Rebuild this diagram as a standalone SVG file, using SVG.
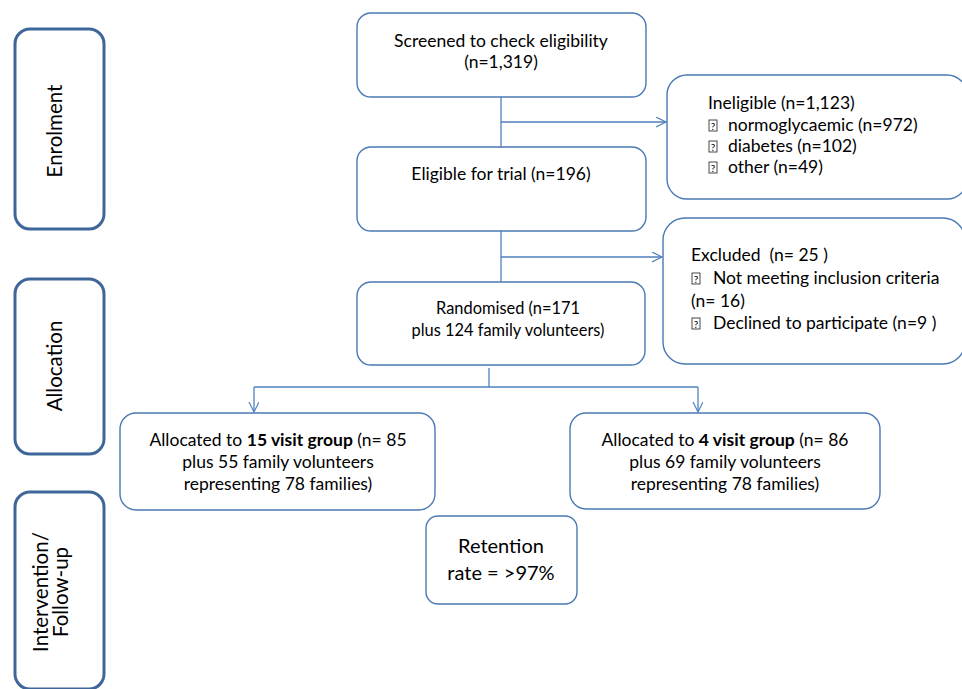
<svg xmlns="http://www.w3.org/2000/svg" width="962" height="689" viewBox="0 0 962 689">
<defs>
<marker id="arr" markerUnits="userSpaceOnUse" markerWidth="12" markerHeight="12" refX="10" refY="5" orient="auto">
<path d="M0,0 L10,5 L0,10" fill="none" stroke="#4f81bd" stroke-width="1.2"/>
</marker>
</defs>
<style>
text{font-family:Lato,"Liberation Sans",sans-serif;fill:#000;}
.b{fill:#fff;stroke:#4a78b4;stroke-width:1.4;}
.side{fill:#fff;stroke:#3f6699;stroke-width:3;}
.t{font-size:17.5px;text-anchor:middle;}
.m{font-size:16.4px;text-anchor:middle;}
.l{font-size:17.5px;}
.s{font-size:20.5px;text-anchor:middle;}
.r{font-size:20px;text-anchor:middle;}
.bx{fill:none;stroke:#333;stroke-width:0.9;}
.q{font-size:10px;text-anchor:middle;}
.c{fill:none;stroke:#4f81bd;stroke-width:1.3;}
</style>
<rect width="962" height="689" fill="#fff"/>
<g id="enrolment"><rect class="side" x="15" y="29" width="89" height="200" rx="15"/><text class="s" transform="translate(62,131) rotate(-90)">Enrolment</text></g>
<g id="allocation"><rect class="side" x="15" y="279" width="89" height="175" rx="15"/><text class="s" transform="translate(62,366) rotate(-90)">Allocation</text></g>
<g id="intervention"><rect class="side" x="15" y="492" width="89" height="197" rx="15"/><text class="s" transform="translate(48,592) rotate(-90)">Intervention/</text><text class="s" transform="translate(68,592) rotate(-90)">Follow-up</text></g>
<g id="connectors">
<path class="c" d="M501,97 V147"/>
<path class="c" d="M501,122 H666" marker-end="url(#arr)"/>
<path class="c" d="M501,231 V282"/>
<path class="c" d="M501,257 H662" marker-end="url(#arr)"/>
<path class="c" d="M489,368 V387"/>
<path class="c" d="M254,387 H698"/>
<path class="c" d="M254,387 V412" marker-end="url(#arr)"/>
<path class="c" d="M698,387 V412" marker-end="url(#arr)"/>
</g>
<g id="screened"><rect class="b" x="357" y="13" width="289" height="84" rx="14"/><text class="t" x="501" y="47">Screened to check eligibility</text><text class="t" x="501" y="68">(n=1,319)</text></g>
<g id="eligible"><rect class="b" x="357" y="147" width="289" height="84" rx="14"/><text class="t" x="501" y="180">Eligible for trial (n=196)</text></g>
<g id="ineligible"><rect class="b" x="667" y="75" width="300" height="124" rx="20"/>
<text class="l" x="708" y="109">Ineligible (n=1,123)</text>
<rect class="bx" x="709" y="120" width="8" height="11"/><text class="q" x="713" y="129.5">?</text><text class="l" x="728" y="131">normoglycaemic (n=972)</text>
<rect class="bx" x="709" y="141" width="8" height="11"/><text class="q" x="713" y="150.5">?</text><text class="l" x="728" y="152">diabetes (n=102)</text>
<rect class="bx" x="709" y="162" width="8" height="11"/><text class="q" x="713" y="171.5">?</text><text class="l" x="728" y="173">other (n=49)</text>
</g>
<g id="excluded"><rect class="b" x="663" y="218" width="302" height="146" rx="22"/>
<text class="l" x="691" y="261" xml:space="preserve">Excluded  (n= 25 )</text>
<rect class="bx" x="692" y="273" width="8" height="11"/><text class="q" x="696" y="282.5">?</text><text class="l" x="713" y="284">Not meeting inclusion criteria</text>
<text class="l" x="691" y="307">(n= 16)</text>
<rect class="bx" x="692" y="318" width="8" height="11"/><text class="q" x="696" y="327.5">?</text><text class="l" x="713" y="329">Declined to participate (n=9 )</text>
</g>
<g id="randomised"><rect class="b" x="357" y="282" width="288" height="83" rx="14"/><text class="m" x="508" y="314">Randomised (n=171</text><text class="m" x="508" y="336">plus 124 family volunteers)</text></g>
<g id="group15"><rect class="b" x="120" y="413" width="315" height="97" rx="16"/><text class="t" x="278" y="446">Allocated to <tspan font-weight="bold">15 visit group</tspan> (n= 85</text><text class="t" x="278" y="468">plus 55 family volunteers</text><text class="t" x="278" y="490">representing 78 families)</text></g>
<g id="group4"><rect class="b" x="570" y="413" width="310" height="96" rx="16"/><text class="t" x="725" y="446">Allocated to <tspan font-weight="bold">4 visit group</tspan> (n= 86</text><text class="t" x="725" y="468">plus 69 family volunteers</text><text class="t" x="725" y="490">representing 78 families)</text></g>
<g id="retention"><rect class="b" x="426" y="516" width="151" height="88" rx="12"/><text class="r" x="501" y="553">Retention</text><text class="r" x="501" y="580">rate = &gt;97%</text></g>
</svg>
